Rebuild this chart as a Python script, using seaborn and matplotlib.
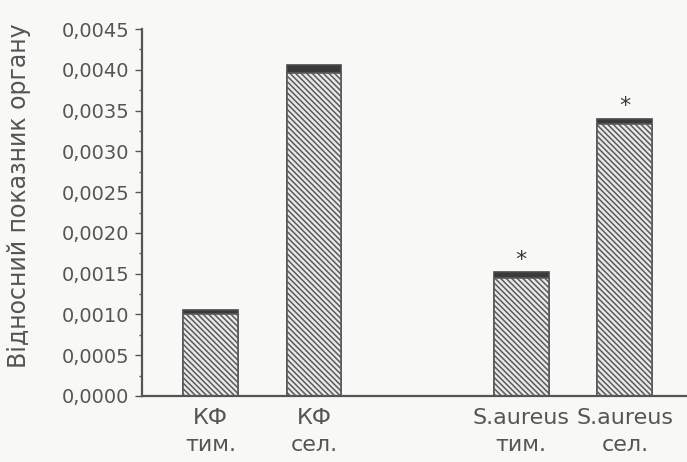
import numpy as np
import pandas as pd
import matplotlib
matplotlib.use('Agg')
import matplotlib.pyplot as plt
import seaborn as sns
from matplotlib.ticker import FuncFormatter, MultipleLocator

# groups on the x axis ('' leaves an empty slot between the two pairs)
groups = ['КФ\nтим.', 'КФ\nсел.', '', 'S.aureus\nтим.', 'S.aureus\nсел.']
labels = ['КФ\nтим.', 'КФ\nсел.', 'S.aureus\nтим.', 'S.aureus\nсел.']
means = [0.00101, 0.00396, 0.00145, 0.00333]
errors = [0.00004, 0.00010, 0.00007, 0.00007]
signif = [False, False, True, True]

ylabel = 'Відносний показник органу'

sns.set_style('white')
plt.rcParams['font.family'] = ['DejaVu Sans']
plt.rcParams['hatch.color'] = '#5a5a5a'
plt.rcParams['hatch.linewidth'] = 1.1

txt = '#555555'
df = pd.DataFrame({'group': labels, 'mean': means, 'err': errors})
df['top'] = df['mean'] + df['err']

fig = plt.figure(figsize=(6.87, 4.62), dpi=100, facecolor='#f8f8f7')
ax = fig.add_axes([0.2067, 0.1429, 0.7933, 0.7941])
ax.set_facecolor('#f8f8f7')

# dark cap = mean + error, hatched bar = mean
sns.barplot(data=df, x='group', y='top', order=groups, color='#3a3a3a',
            width=0.53, edgecolor='#4a4a4a', linewidth=1.2, saturation=1, ax=ax)
sns.barplot(data=df, x='group', y='mean', order=groups, color='#e9e9e9',
            width=0.53, edgecolor='#5a5a5a', linewidth=1.2, saturation=1,
            hatch='\\\\\\\\\\\\', ax=ax)

for i, lab in enumerate(labels):
    if signif[i]:
        ax.text(groups.index(lab), df['top'][i] + 0.00003, '*', ha='center',
                va='bottom', fontsize=16, color='#3a3a3a')

ax.set_xlim(-0.66, 4.6)
ax.set_ylim(0, 0.0045)
ax.yaxis.set_major_locator(MultipleLocator(0.0005))
ax.yaxis.set_minor_locator(MultipleLocator(0.00025))
ax.yaxis.set_major_formatter(FuncFormatter(lambda v, p: f'{v:.4f}'.replace('.', ',')))
ax.tick_params(axis='y', which='major', direction='out', length=5, width=1,
               color='#555555', labelsize=14, labelcolor=txt, pad=4, left=True)
ax.tick_params(axis='y', which='minor', direction='out', length=2.5, width=1,
               color='#555555', left=True)
ax.tick_params(axis='x', length=0, labelsize=16, labelcolor=txt, pad=9)
for t in ax.get_xticklabels():
    t.set_linespacing(1.4)
ax.set_xlabel('')
ax.set_ylabel(ylabel, fontsize=17, color=txt)
ax.yaxis.set_label_coords(-0.204, 0.545)

for s in ['top', 'right']:
    ax.spines[s].set_visible(False)
for s in ['left', 'bottom']:
    ax.spines[s].set_color('#555555')
    ax.spines[s].set_linewidth(1.6)

fig.savefig('out.png', dpi=100, facecolor=fig.get_facecolor())
